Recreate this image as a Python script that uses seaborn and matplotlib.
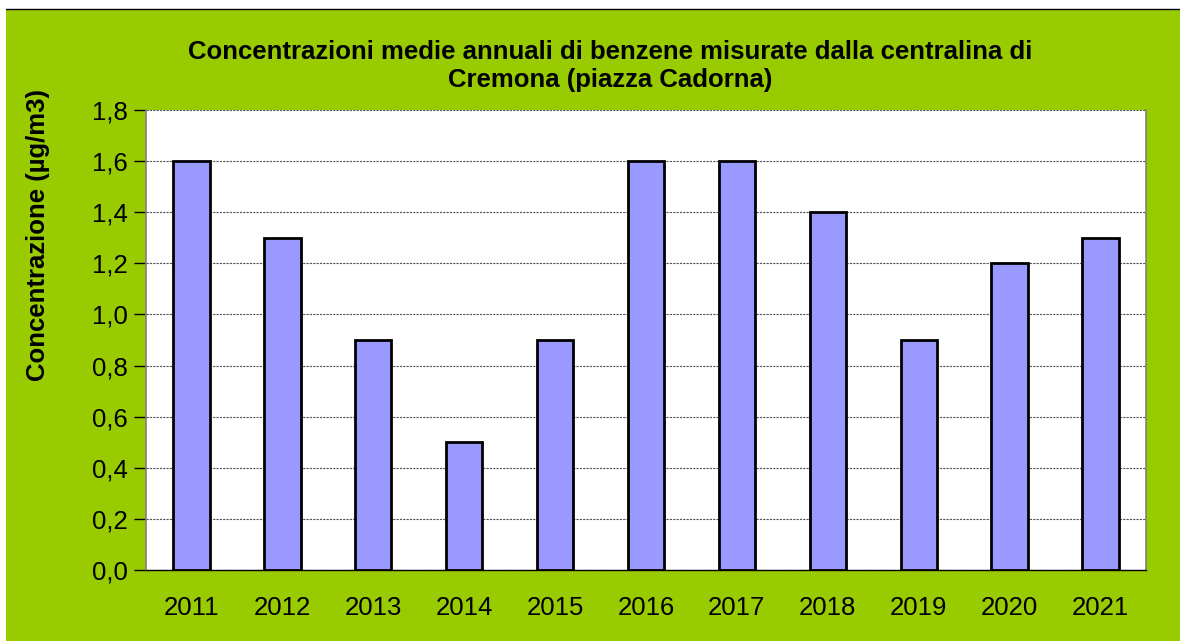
import pandas as pd
import matplotlib.pyplot as plt
import seaborn as sns
import numpy as np
from matplotlib.patches import Rectangle
from matplotlib.lines import Line2D

years = ["2011", "2012", "2013", "2014", "2015", "2016", "2017", "2018", "2019", "2020", "2021"]
benzene = [1.6, 1.3, 0.9, 0.5, 0.9, 1.6, 1.6, 1.4, 0.9, 1.2, 1.3]
yticks = [0.0, 0.2, 0.4, 0.6, 0.8, 1.0, 1.2, 1.4, 1.6, 1.8]
ytick_labels = ["0,0", "0,2", "0,4", "0,6", "0,8", "1,0", "1,2", "1,4", "1,6", "1,8"]

df = pd.DataFrame({"anno": years, "conc": benzene})

sns.set_style("white")
plt.rcParams["font.family"] = ["Liberation Sans", "DejaVu Sans"]
plt.rcParams["text.color"] = "black"
plt.rcParams["xtick.color"] = "black"
plt.rcParams["ytick.color"] = "black"

fig = plt.figure(figsize=(11.8, 6.41), dpi=100)
fig.patch.set_facecolor("white")
# green chart area with thin black line on top
fig.patches.append(Rectangle((6 / 1180, 0), 1 - 6 / 1180, 1 - 9 / 641,
                             transform=fig.transFigure, facecolor="#99CC00",
                             edgecolor="none", zorder=-10))
fig.lines.append(Line2D([6 / 1180, 1], [1 - 9 / 641, 1 - 9 / 641],
                        transform=fig.transFigure, color="black", lw=1))

ax = fig.add_axes([146 / 1180, 71 / 641, 1000 / 1180, 460 / 641])
ax.set_facecolor("white")

sns.barplot(data=df, x="anno", y="conc", color="#9999FF", saturation=1,
            width=0.4, edgecolor="black", linewidth=2.0, ax=ax, zorder=3)

ax.set_ylim(0, 1.8)
ax.set_xlim(-0.5, len(years) - 0.5)
ax.set_yticks(yticks)
ax.set_yticklabels(ytick_labels, fontsize=18.5)
ax.tick_params(axis="x", which="major", length=0, labelsize=18.5, pad=19)
ax.set_xticks(np.arange(-0.5, len(years), 1.0), minor=True)
ax.tick_params(axis="x", which="minor", length=9, width=1, color="black", direction="out")
ax.tick_params(axis="y", length=9, width=1, color="black", direction="out", left=True, pad=4)

ax.yaxis.grid(True, linestyle=(0, (2, 1)), color="#555555", linewidth=0.8, zorder=0)
ax.set_axisbelow(True)

for side in ["left", "right"]:
    ax.spines[side].set_visible(True)
    ax.spines[side].set_color("#808080")
    ax.spines[side].set_linewidth(1.2)
ax.spines["top"].set_visible(False)
ax.spines["bottom"].set_color("black")
ax.spines["bottom"].set_linewidth(1)

ax.set_xlabel("")
ax.set_ylabel("")

fig.text(610 / 1180, 1 - 66 / 641,
         "Concentrazioni medie annuali di benzene misurate dalla centralina di\nCremona (piazza Cadorna)",
         ha="center", va="center", fontsize=18.5, fontweight="bold", linespacing=1.25)
fig.text(38 / 1180, 1 - 235 / 641, "Concentrazione (µg/m3)", rotation=90,
         ha="center", va="center", fontsize=18.5, fontweight="bold")

fig.savefig("out.png", dpi=100)
